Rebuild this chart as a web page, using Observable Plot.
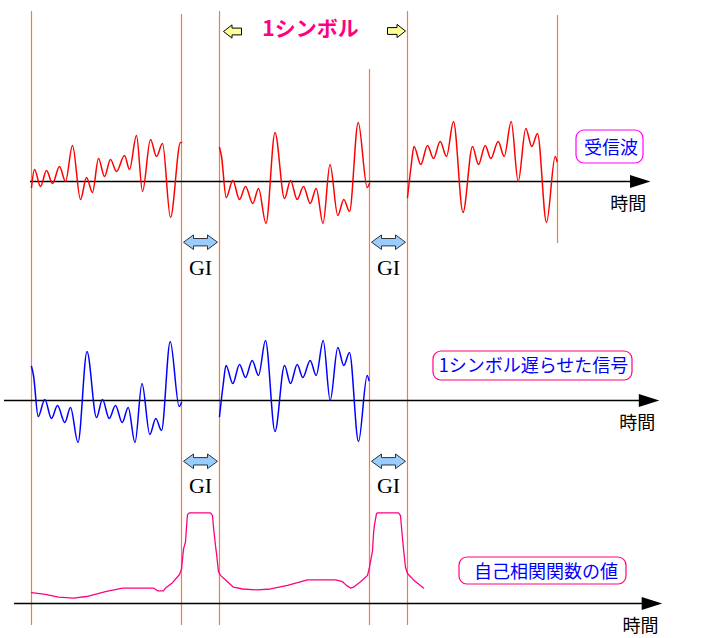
<!DOCTYPE html>
<html><head><meta charset="utf-8">
<script src="https://cdn.jsdelivr.net/npm/d3@7"></script>
<script src="https://cdn.jsdelivr.net/npm/@observablehq/plot@0.6"></script>
<style>html,body{margin:0;padding:0;background:#fff;} svg{display:block}</style>
</head><body><div id="chart"></div>
<script>
// ---------------- DATA ----------------
// time in samples; each OFDM symbol = guard interval (38) + useful part (150)
const bodyStarts = [0, 188, 376];
const bodyLength = 150;

// received wave, one array per symbol body: [time from body start, amplitude]
const sym1 = [[0,-0.6],[3,1.2],[9,-0.5],[15,1.1],[21,-0.2],[28,1.5],[34,0],[41,3.6],[49,-1.8],[55,0.4],[61,-1.1],[67,2.3],[73,0.5],[79,2.2],[85,1.0],[93,2.6],[98,1.2],[105,4.6],[111,-1.0],[119,4.2],[125,2.5],[131,3.8],[139,-3.6],[149,3.9],[150,3.9]];
const sym2 = [[0,3.4],[2,2.5],[6.7,-1.6],[13.3,0.1],[20,-1.8],[26,-0.5],[33.3,-2.2],[39,-0.7],[46.5,-4.2],[55.5,4.9],[65,-1.7],[71,0.1],[77.7,-1.8],[84,-0.5],[90.7,-2.2],[96.7,-0.7],[103.5,-4.2],[110.5,1.7],[118.3,-3.4],[124.3,-1.8],[130,-3.0],[138.7,5.9],[147.7,-0.6],[150,-0.2]];
const sym3 = [[0,-1.6],[3.7,1.6],[6.5,3.5],[13.3,1.7],[20,3.6],[26,2.3],[32.7,4.0],[39,2.5],[46,6.0],[55.5,-3.1],[65,3.5],[71,1.7],[77.7,3.6],[83.3,2.3],[90.7,4.0],[96.7,2.5],[103.7,6.0],[110.7,0],[118.3,5.3],[124.3,3.5],[130,4.8],[139,-4.1],[147.7,2.5],[149.5,2.0]];

// autocorrelation value (normalised, plateau = 1): [time, value]
const correlation = [[0,0.12],[14,0.10],[27,0.07],[42,0.06],[57,0.08],[74,0.13],[91,0.17],[107,0.17],[122,0.17],[126,0.14],[132,0.14],[134,0.17],[141,0.23],[148,0.32],[150,0.38],[152,0.60],[154,0.68],[155,0.84],[156,0.98],[158,1],[179,1],[181,0.97],[182,0.84],[184,0.64],[185,0.55],[187,0.35],[189,0.31],[196,0.24],[202,0.18],[211,0.16],[226,0.15],[239,0.16],[256,0.20],[276,0.26],[304,0.26],[311,0.24],[315,0.20],[319,0.17],[322,0.18],[329,0.24],[336,0.31],[338,0.40],[341,0.58],[342,0.77],[343,0.87],[345,0.99],[346,1],[367,1],[369,0.97],[370,0.84],[372,0.60],[374,0.40],[376,0.33],[382,0.26],[392,0.17]];

const titleText = "1シンボル";
const panelLabels = ["受信波", "1シンボル遅らせた信号", "自己相関関数の値"];
const axisLabel = "時間";
const giLabel = "GI";

// ---------------- LAYOUT ----------------
const W = 713, H = 638;
const base = {red: 45.7, blue: 23.8, pink: 3.5};   // panel baselines (y units)
const corrGain = 9.07;
const guideTops = [62.7, 62.4, 62.7, 56.9, 62.7, 62.3];
const guideBottoms = [1.3, 1.3, 1.3, 1.3, 1.3, 39.5];
const axes = [
  {y: base.red, x1: -1, x2: 599, head: 608.5, lx: 596.7, ly: 43.4},
  {y: base.blue, x1: -27, x2: 609, head: 617.3, lx: 605.7, ly: 21.55},
  {y: base.pink, x1: -17, x2: 612, head: 620.2, lx: 609, ly: 1.2}
];
const boxes = [
  {x1: 545, x2: 612, y1: 47.5, y2: 50.8, tx: 579.5, ty: 49.0, stroke: "#ff00ff"},
  {x1: 402, x2: 601, y1: 25.8, y2: 28.7, tx: 502, ty: 27.2, stroke: "#ff0080"},
  {x1: 428, x2: 595, y1: 5.4, y2: 8.1, tx: 514.5, ty: 6.6, stroke: "#ff0080"}
];

// ---------------- DERIVED ----------------
const boundaries = bodyStarts.flatMap(s => [s, s + bodyLength]);
const giMids = bodyStarts.slice(1).map(s => s - 19);
const received = [sym1, sym2, sym3].flatMap((s, k) => s.map(([dt, a]) => ({t: bodyStarts[k] + dt, a, seg: k})));
const delayed = [sym2, sym3].flatMap((s, k) => s.map(([dt, a]) => ({t: bodyStarts[k] + dt, a, seg: k})));
const corr = correlation.map(([t, v]) => ({t, v}));

// custom symbols (pixel geometry)
const arrowHead = {draw(c) { c.moveTo(-10, -6.5); c.lineTo(10.5, 0); c.lineTo(-10, 6.5); c.closePath(); }};
const dblArrow = {draw(c) {
  c.moveTo(-17, 0); c.lineTo(-7, -7.3); c.lineTo(-7, -3.7); c.lineTo(7, -3.7); c.lineTo(7, -7.3);
  c.lineTo(17, 0); c.lineTo(7, 7.3); c.lineTo(7, 3.7); c.lineTo(-7, 3.7); c.lineTo(-7, 7.3); c.closePath();
}};
const leftArrow = {draw(c) {
  c.moveTo(-9, 0); c.lineTo(-0.5, -6.6); c.lineTo(-0.5, -3.4); c.lineTo(9, -3.4); c.lineTo(9, 3.4);
  c.lineTo(-0.5, 3.4); c.lineTo(-0.5, 6.6); c.closePath();
}};
const rightArrow = {draw(c) {
  c.moveTo(9, 0); c.lineTo(0.5, -6.6); c.lineTo(0.5, -3.4); c.lineTo(-9, -3.4); c.lineTo(-9, 3.4);
  c.lineTo(0.5, 3.4); c.lineTo(0.5, 6.6); c.closePath();
}};

const jp = "'Noto Sans CJK JP', sans-serif";

const chart = Plot.plot({
  width: W, height: H, margin: 0,
  x: {domain: [-31, 682], axis: null},
  y: {domain: [0, 63.8], axis: null},
  style: {fontFamily: jp, background: "white"},
  marks: [
    Plot.ruleX(boundaries, {x: d => d, y1: (d, i) => guideTops[i], y2: (d, i) => guideBottoms[i], stroke: "#ff7a2e", strokeWidth: 1.2}),
    Plot.ruleY(axes, {y: "y", x1: "x1", x2: "x2", stroke: "black", strokeWidth: 1.5}),
    Plot.dot(axes, {x: "head", y: "y", symbol: arrowHead, fill: "black", stroke: "none"}),
    Plot.text(axes, {x: "lx", y: "ly", text: () => axisLabel, fontSize: 18, fill: "black"}),
    Plot.line(received, {x: "t", y: d => base.red + d.a, z: "seg", stroke: "#ff0000", strokeWidth: 1.5, curve: "monotone-x"}),
    Plot.line(delayed, {x: "t", y: d => base.blue + d.a, z: "seg", stroke: "#0000ff", strokeWidth: 1.5, curve: "monotone-x"}),
    Plot.line(corr, {x: "t", y: d => base.pink + corrGain * d.v, stroke: "#ff0080", strokeWidth: 1.3}),
    Plot.rect(boxes, {x1: "x1", x2: "x2", y1: "y1", y2: "y2", rx: 8, fill: "white", stroke: "stroke", strokeWidth: 1.2}),
    Plot.text(boxes, {x: "tx", y: "ty", text: (d, i) => panelLabels[i], fontSize: 18, fill: "#0000ff"}),
    Plot.text([titleText], {x: 279, y: 60.9, text: d => d, fontSize: 21, fontWeight: "bold", fill: "#ff0080"}),
    Plot.dot([bodyStarts[1] + 13], {x: d => d, y: 60.7, symbol: leftArrow, fill: "#ffff99", stroke: "black", strokeWidth: 1}),
    Plot.dot([bodyStarts[2] - 11], {x: d => d, y: 60.75, symbol: rightArrow, fill: "#ffff99", stroke: "black", strokeWidth: 1}),
    Plot.dot(giMids.flatMap(m => [{t: m, y: 39.63}, {t: m, y: 17.72}]), {x: "t", y: "y", symbol: dblArrow, fill: "#99ccff", stroke: "#333", strokeWidth: 1}),
    Plot.text(giMids.flatMap(m => [{t: m, y: 37.05}, {t: m, y: 15.25}]), {x: "t", y: "y", text: () => giLabel, fontFamily: "'Liberation Serif', serif", fontSize: 22, fill: "black"})
  ]
});
document.getElementById("chart").appendChild(chart);
</script></body></html>
